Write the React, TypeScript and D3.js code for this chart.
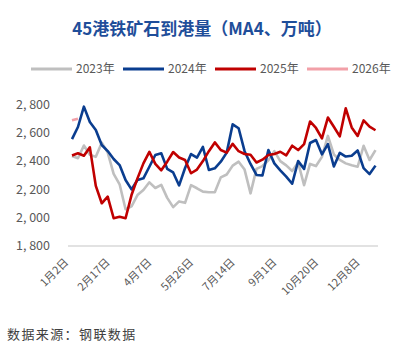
import React, { useEffect, useRef } from 'react';
import * as d3 from 'd3';

const categories = [
  '1月2日', '1月6日', '1月13日', '1月20日', '1月27日', '2月3日', '2月10日', '2月17日',
  '2月24日', '3月3日', '3月10日', '3月17日', '3月24日', '3月31日', '4月7日', '4月14日',
  '4月21日', '4月28日', '5月5日', '5月12日', '5月19日', '5月26日', '6月2日', '6月9日',
  '6月16日', '6月23日', '6月30日', '7月7日', '7月14日', '7月21日', '7月28日', '8月4日',
  '8月11日', '8月18日', '8月25日', '9月1日', '9月8日', '9月15日', '9月22日', '9月29日',
  '10月6日', '10月13日', '10月20日', '10月27日', '11月3日', '11月10日', '11月17日', '11月24日',
  '12月1日', '12月8日', '12月15日', '12月22日',
];

const tickLabels = ['1月2日', '2月17日', '4月7日', '5月26日', '7月14日', '9月1日', '10月20日', '12月8日'];
const yTicks = [1800, 2000, 2200, 2400, 2600, 2800];

const values2023 = [
  2436, 2420, 2510, 2445, 2430, 2530, 2460, 2310, 2236, 2060, 2080, 2160, 2196,
  2250, 2210, 2232, 2140, 2075, 2115, 2105, 2230, 2208, 2184, 2180, 2180, 2285,
  2305, 2368, 2396, 2340, 2172, 2345, 2365, 2405, 2470, 2400, 2370, 2330, 2390,
  2230, 2380, 2365, 2430, 2578, 2447, 2408, 2384, 2370, 2360, 2508, 2408, 2478,
];
const values2024 = [
  2555, 2641, 2785, 2676, 2620, 2514, 2471, 2415, 2372, 2266, 2200, 2266, 2278,
  2360, 2443, 2455, 2345, 2320, 2228, 2351, 2450, 2425, 2500, 2337, 2349, 2396,
  2460, 2660, 2632, 2470, 2380, 2302, 2298, 2478, 2384, 2335, 2290, 2240, 2400,
  2345, 2528, 2549, 2448, 2520, 2362, 2458, 2432, 2438, 2475, 2350, 2308, 2368,
];
const values2025 = [
  2440, 2455, 2438, 2497, 2225, 2102, 2149, 1996, 2007, 1996, 2160, 2278, 2384,
  2465, 2380, 2335, 2396, 2464, 2425, 2408, 2314, 2340, 2400, 2470, 2532, 2478,
  2460, 2522, 2470, 2450, 2445, 2390, 2410, 2443, 2450, 2466, 2440, 2509, 2478,
  2520, 2680, 2634, 2561, 2708, 2643, 2575, 2773, 2638, 2578, 2688, 2643, 2618,
];
const values2026 = [2688, 2700];

const seriesNames = ['2023年', '2024年', '2025年', '2026年'];
const seriesColors = ['#BFBFBF', '#0A3D8F', '#C00000', '#F2A0A8'];

const App: React.FC = () => {
  const svgRef = useRef<SVGSVGElement>(null);

  useEffect(() => {
    if (!svgRef.current) return;
    const svg = d3.select(svgRef.current);
    svg.selectAll('*').remove();

    const font = '"Noto Sans CJK SC", "Noto Sans", sans-serif';
    const x = d3.scalePoint<string>().domain(categories).range([72, 375.5]);
    const y = d3.scaleLinear().domain([1800, 2800]).range([246, 104.5]);

    // title
    svg.append('text')
      .attr('x', 202)
      .attr('y', 35)
      .attr('text-anchor', 'middle')
      .style('font-family', font)
      .style('font-size', '17px')
      .style('font-weight', '700')
      .style('fill', '#1F4E9A')
      .text('45港铁矿石到港量（MA4、万吨）');

    // legend
    const legendX = [31, 123, 215, 307];
    seriesNames.forEach((name, i) => {
      const g = svg.append('g').attr('transform', `translate(${legendX[i]}, 69)`);
      g.append('line')
        .attr('x1', 0).attr('x2', 41)
        .attr('stroke', seriesColors[i])
        .attr('stroke-width', 3);
      g.append('text')
        .attr('x', 45)
        .attr('dy', '0.35em')
        .style('font-family', font)
        .style('font-size', '12px')
        .style('fill', '#595959')
        .text(name);
    });

    // y axis labels
    const fmt = d3.format(',');
    svg.append('g')
      .selectAll('text')
      .data(yTicks)
      .join('text')
      .attr('x', 50)
      .attr('y', d => y(d))
      .attr('dy', '0.35em')
      .attr('text-anchor', 'end')
      .style('font-family', font)
      .style('font-size', '12.5px')
      .style('fill', '#595959')
      .text(d => fmt(d).replace(',', ', '));

    // x axis line
    svg.append('line')
      .attr('x1', 68).attr('x2', 378)
      .attr('y1', y(1800)).attr('y2', y(1800))
      .attr('stroke', '#D9D9D9')
      .attr('stroke-width', 1.5);

    // x labels
    svg.append('g')
      .selectAll('text')
      .data(tickLabels)
      .join('text')
      .attr('transform', d => `translate(${(x(d) as number) - 3}, 263) rotate(-45)`)
      .attr('text-anchor', 'end')
      .style('font-family', font)
      .style('font-size', '11px')
      .style('fill', '#595959')
      .text(d => d);

    // lines
    const line = d3.line<number>()
      .x((_, i) => x(categories[i]) as number)
      .y(d => y(d));

    [values2023, values2024, values2025, values2026].forEach((vals, i) => {
      svg.append('path')
        .datum(vals)
        .attr('fill', 'none')
        .attr('stroke', seriesColors[i])
        .attr('stroke-width', 2.6)
        .attr('stroke-linejoin', 'round')
        .attr('d', line);
    });

    // source
    svg.append('text')
      .attr('x', 7)
      .attr('y', 339)
      .style('font-family', font)
      .style('font-size', '13px')
      .style('letter-spacing', '1.4px')
      .style('fill', '#404040')
      .text('数据来源：钢联数据');
  }, []);

  return (
    <svg
      ref={svgRef}
      width={413}
      height={354}
      style={{ position: 'absolute', left: 0, top: 0, background: '#ffffff' }}
    />
  );
};

export default App;
